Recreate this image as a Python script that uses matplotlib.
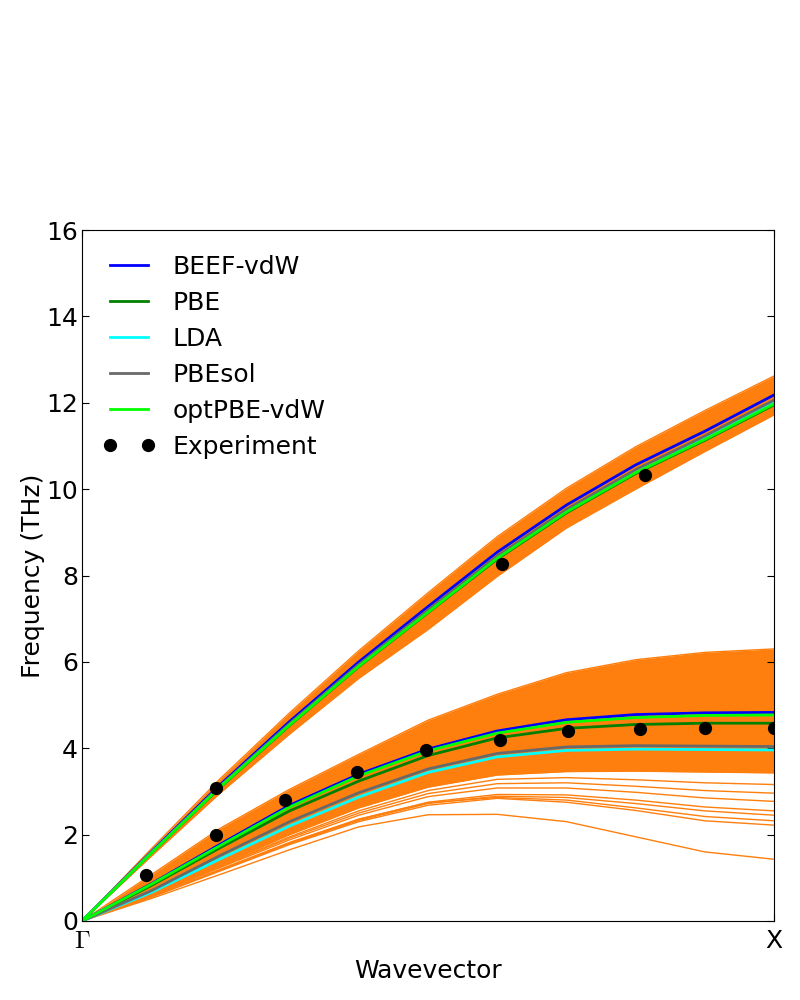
import matplotlib
matplotlib.use("Agg")
import matplotlib.pyplot as plt
from matplotlib.lines import Line2D
from matplotlib.legend_handler import HandlerLine2D

plt.rcParams['font.family'] = ['DejaVu Sans']
plt.rcParams['mathtext.fontset'] = 'cm'

# reduced wavevector, Gamma -> X
q = [0.0, 0.1, 0.2, 0.3, 0.4, 0.5, 0.6, 0.7, 0.8, 0.9, 1.0]

# longitudinal branch (THz)
beef_L   = [0, 1.60, 3.16, 4.62, 6.00, 7.28, 8.54, 9.63, 10.56, 11.34, 12.18]
pbe_L    = [0, 1.57, 3.10, 4.53, 5.89, 7.14, 8.38, 9.45, 10.36, 11.13, 11.95]
lda_L    = [0, 1.58, 3.12, 4.56, 5.92, 7.18, 8.43, 9.50, 10.42, 11.20, 12.02]
pbesol_L = [0, 1.58, 3.13, 4.57, 5.94, 7.20, 8.45, 9.53, 10.45, 11.23, 12.06]
opt_L    = [0, 1.57, 3.11, 4.54, 5.90, 7.15, 8.40, 9.47, 10.38, 11.15, 11.97]

# transverse branch (THz)
beef_T   = [0, 0.86, 1.78, 2.68, 3.40, 3.98, 4.40, 4.66, 4.78, 4.82, 4.83]
pbe_T    = [0, 0.82, 1.70, 2.55, 3.24, 3.83, 4.24, 4.46, 4.55, 4.58, 4.58]
lda_T    = [0, 0.66, 1.44, 2.20, 2.87, 3.44, 3.80, 3.95, 3.98, 3.97, 3.96]
pbesol_T = [0, 0.70, 1.52, 2.30, 2.97, 3.52, 3.88, 4.03, 4.06, 4.05, 4.04]
opt_T    = [0, 0.85, 1.75, 2.64, 3.36, 3.94, 4.35, 4.60, 4.71, 4.76, 4.77]

# BEEF ensemble: dense envelopes
ens_L_top = [0, 1.67, 3.30, 4.82, 6.26, 7.60, 8.90, 10.02, 10.98, 11.82, 12.62]
ens_L_bot = [0, 1.50, 2.97, 4.33, 5.62, 6.75, 7.98, 9.10, 10.00, 10.87, 11.72]
ens_T_top = [0, 1.07, 2.15, 3.05, 3.86, 4.65, 5.25, 5.75, 6.05, 6.22, 6.30]
ens_T_bot = [0, 0.60, 1.30, 2.00, 2.62, 3.10, 3.38, 3.46, 3.47, 3.45, 3.43]

# BEEF ensemble: separate low lines of the transverse branch
ens_T_low = [
    [0, 0.52, 1.08, 1.65, 2.18, 2.46, 2.47, 2.30, 1.95, 1.60, 1.43],
    [0, 0.56, 1.18, 1.80, 2.35, 2.75, 2.93, 2.92, 2.80, 2.64, 2.55],
    [0, 0.56, 1.18, 1.79, 2.33, 2.72, 2.89, 2.86, 2.72, 2.55, 2.45],
    [0, 0.57, 1.20, 1.82, 2.36, 2.74, 2.86, 2.80, 2.62, 2.42, 2.32],
    [0, 0.55, 1.16, 1.77, 2.30, 2.68, 2.84, 2.75, 2.56, 2.32, 2.22],
    [0, 0.58, 1.24, 1.88, 2.45, 2.88, 3.08, 3.08, 2.98, 2.85, 2.77],
    [0, 0.59, 1.26, 1.92, 2.50, 2.95, 3.18, 3.20, 3.12, 3.02, 2.96],
    [0, 0.60, 1.28, 1.95, 2.55, 3.02, 3.28, 3.32, 3.27, 3.20, 3.16],
]

# experiment
exp_q = [0.093, 0.194, 0.194, 0.293, 0.397, 0.497, 0.604, 0.607, 0.702, 0.806, 0.814, 0.900, 1.000]
exp_f = [1.065, 3.08, 1.99, 2.80, 3.45, 3.96, 4.19, 8.27, 4.40, 4.45, 10.33, 4.47, 4.47]

orange = '#ff7f0e'

fig = plt.figure(figsize=(8, 10), dpi=100)
ax = fig.add_axes([0.1025, 0.079, 0.865, 0.691])

# ensemble
ax.fill_between(q, ens_L_bot, ens_L_top, color=orange, lw=0)
ax.fill_between(q, ens_T_bot, ens_T_top, color=orange, lw=0)
for env in (ens_L_top, ens_L_bot, ens_T_top, ens_T_bot):
    ax.plot(q, env, color=orange, lw=1)
for line in ens_T_low:
    ax.plot(q, line, color=orange, lw=1)

# functionals
ax.plot(q, beef_L, color='blue', lw=2, label='BEEF-vdW')
ax.plot(q, beef_T, color='blue', lw=2)
ax.plot(q, pbe_L, color='green', lw=2, label='PBE')
ax.plot(q, pbe_T, color='green', lw=2)
ax.plot(q, lda_L, color='cyan', lw=2, label='LDA')
ax.plot(q, lda_T, color='cyan', lw=2)
ax.plot(q, pbesol_L, color='dimgray', lw=2, label='PBEsol')
ax.plot(q, pbesol_T, color='dimgray', lw=2)
ax.plot(q, opt_L, color='lime', lw=2, label='optPBE-vdW')
ax.plot(q, opt_T, color='lime', lw=2)

ax.plot(exp_q, exp_f, 'o', color='black', ms=8.5, label='Experiment')

ax.set_xlim(0, 1)
ax.set_ylim(0, 16)
ax.set_xticks([0, 1])
ax.set_xticklabels([r'$\Gamma$', 'X'])
ax.set_yticks(range(0, 17, 2))
ax.tick_params(direction='in', length=5, labelsize=18, top=True, right=True)
ax.tick_params(axis='x', pad=6)
ax.tick_params(axis='y', pad=3)
ax.set_xlabel('Wavevector', fontsize=18)
ax.set_ylabel('Frequency (THz)', fontsize=18, labelpad=1)

ax.legend(loc='upper left', bbox_to_anchor=(0.004, 1.0), frameon=False,
          fontsize=18, numpoints=2, labelspacing=0.48, handlelength=1.52,
          handletextpad=1.0, borderaxespad=0.6,
          handler_map={Line2D: HandlerLine2D(marker_pad=0)})

fig.savefig('out.png', dpi=100)
